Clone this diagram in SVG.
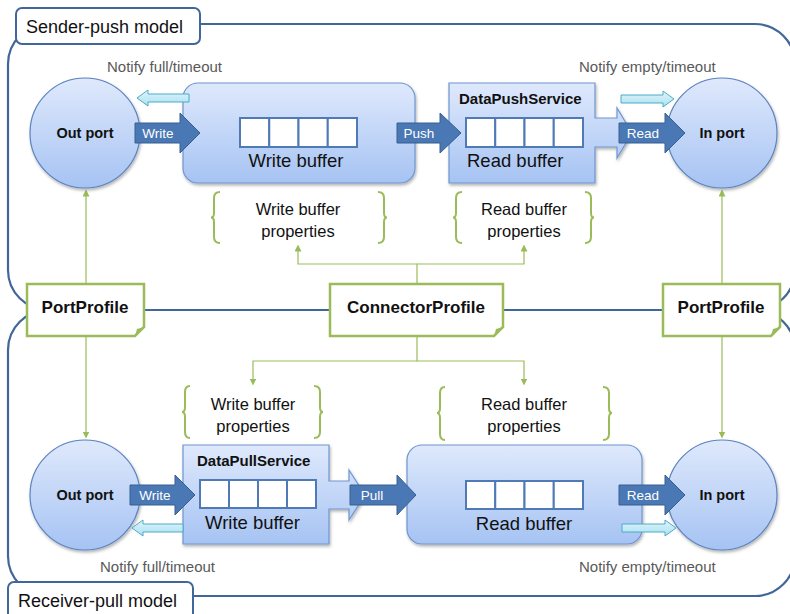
<svg xmlns="http://www.w3.org/2000/svg" width="790" height="614" viewBox="0 0 790 614">
<defs>
<linearGradient id="gBlue" x1="0" y1="0" x2="0" y2="1">
<stop offset="0" stop-color="#dfe9fc"/>
<stop offset="1" stop-color="#a6c3f3"/>
</linearGradient>
<linearGradient id="gCyan" x1="0" y1="0" x2="0" y2="1">
<stop offset="0" stop-color="#e2f5fb"/>
<stop offset="1" stop-color="#a9e0f1"/>
</linearGradient>
<filter id="sh" x="-10%" y="-10%" width="130%" height="130%">
<feDropShadow dx="1" dy="2" stdDeviation="1.5" flood-color="#000" flood-opacity="0.3"/>
</filter>
<marker id="ga" viewBox="0 0 8 8" refX="4" refY="4" markerWidth="7" markerHeight="7" markerUnits="userSpaceOnUse" orient="auto">
<path d="M0,0 L8,4 L0,8 z" fill="#9bbb59"/>
</marker>
<style>
.cont{fill:none;stroke:#41679a;stroke-width:2.2}
.lbl{fill:#fff;stroke:#41679a;stroke-width:2}
.lbltxt{font-family:"Liberation Sans",Arial,sans-serif;font-size:18px;fill:#111}
.port{fill:url(#gBlue);stroke:#5b82bf;stroke-width:1.2;filter:url(#sh)}
.box{fill:url(#gBlue);stroke:#6f95cf;stroke-width:1.2;filter:url(#sh)}
.cell{fill:#fff;stroke:#4f7ab6;stroke-width:2}
.darr{fill:#4a78b4;stroke:#365f91;stroke-width:1}
.larr{fill:url(#gCyan);stroke:#4bacc6;stroke-width:1}
.prof{fill:#fff;stroke:#9bbb59;stroke-width:2.5}
.fold{fill:#9bbb59}
.gl{fill:none;stroke:#9bbb59;stroke-width:1.2}
.brace{fill:none;stroke:#9bbb59;stroke-width:2}
.t{font-family:"Liberation Sans",Arial,sans-serif;fill:#111}
.b{font-weight:bold}
.w{fill:#fff;font-size:13.5px}
.gray{fill:#595959;font-size:15px}
.mid{text-anchor:middle}
</style>
</defs>

<g id="containers">
<rect class="cont" x="8" y="24" width="787" height="286" rx="40"/>
<rect class="cont" x="8" y="310" width="787" height="286" rx="40"/>
</g>

<g id="label-sender">
<rect class="lbl" x="16" y="8" width="184" height="36" rx="6"/>
<text class="lbltxt" x="26" y="33">Sender-push model</text>
</g>
<g id="label-receiver">
<rect class="lbl" x="8" y="582" width="185" height="40" rx="6"/>
<text class="lbltxt" x="18" y="607">Receiver-pull model</text>
</g>

<g id="connectors">
<path class="gl" d="M86,284 V193" marker-end="url(#ga)"/>
<path class="gl" d="M722,284 V193" marker-end="url(#ga)"/>
<path class="gl" d="M417,284 V264 H298 V248" marker-end="url(#ga)"/>
<path class="gl" d="M417,264 H524 V248" marker-end="url(#ga)"/>
<path class="gl" d="M86,336 V435" marker-end="url(#ga)"/>
<path class="gl" d="M722,336 V435" marker-end="url(#ga)"/>
<path class="gl" d="M417,336 V361 H253 V382" marker-end="url(#ga)"/>
<path class="gl" d="M417,361 H524 V382" marker-end="url(#ga)"/>
</g>

<g id="outport-top">
<circle class="port" cx="85" cy="133" r="55"/>
<text class="t b mid" x="85" y="138" font-size="14.5">Out port</text>
</g>
<g id="inport-top">
<circle class="port" cx="722" cy="133" r="55"/>
<text class="t b mid" x="722" y="138" font-size="14.5">In port</text>
</g>

<g id="writebuffer-top">
<rect class="box" x="183" y="83" width="232" height="100" rx="15"/>
<rect class="cell" x="240" y="118" width="29.25" height="29"/>
<rect class="cell" x="269.25" y="118" width="29.25" height="29"/>
<rect class="cell" x="298.5" y="118" width="29.25" height="29"/>
<rect class="cell" x="327.75" y="118" width="29.25" height="29"/>
<text class="t mid" x="296" y="167" font-size="18.5">Write buffer</text>
</g>

<g id="datapushservice">
<path class="box" d="M449,83 H595 V118 H617 V108 L632,133 L617,158 V147 H595 V183 H449 Z"/>
<text class="t b" x="459" y="104" font-size="15">DataPushService</text>
<rect class="cell" x="466" y="118" width="29.25" height="29"/>
<rect class="cell" x="495.25" y="118" width="29.25" height="29"/>
<rect class="cell" x="524.5" y="118" width="29.25" height="29"/>
<rect class="cell" x="553.75" y="118" width="29.25" height="29"/>
<text class="t" x="467" y="167" font-size="18.5">Read buffer</text>
</g>

<g id="arrows-top">
<path class="darr" d="M135,123 H180 V113 L200,133 L180,153 V143 H135 Z"/>
<text class="t w mid" x="158" y="138">Write</text>
<path class="darr" d="M397,123 H440 V113 L461,133 L440,153 V143 H397 Z"/>
<text class="t w mid" x="419" y="138">Push</text>
<path class="darr" d="M619,123 H665 V113 L685,133 L665,153 V143 H619 Z"/>
<text class="t w mid" x="643" y="138">Read</text>
<path class="larr" d="M189,94 V102 H148 V106 L137,98 L148,90 V94 Z"/>
<path class="larr" d="M621,95 H663 V91 L674,99 L663,107 V103 H621 Z"/>
<text class="t gray" x="107" y="72">Notify full/timeout</text>
<text class="t gray" x="579" y="72">Notify empty/timeout</text>
</g>

<g id="props-top">
<path class="brace" d="M220,192 Q214,192 214,198 V213 Q214,217.5 211,217.5 Q214,217.5 214,222 V237 Q214,243 220,243"/>
<path class="brace" d="M378,192 Q384,192 384,198 V213 Q384,217.5 387,217.5 Q384,217.5 384,222 V237 Q384,243 378,243"/>
<text class="t mid" x="298" y="215" font-size="16.5">Write buffer</text>
<text class="t mid" x="298" y="237" font-size="16.5">properties</text>
<path class="brace" d="M462,192 Q456,192 456,198 V213 Q456,217.5 453,217.5 Q456,217.5 456,222 V237 Q456,243 462,243"/>
<path class="brace" d="M585,192 Q591,192 591,198 V213 Q591,217.5 594,217.5 Q591,217.5 591,222 V237 Q591,243 585,243"/>
<text class="t mid" x="524" y="215" font-size="16.5">Read buffer</text>
<text class="t mid" x="524" y="237" font-size="16.5">properties</text>
</g>

<g id="portprofile-left">
<path class="prof" d="M27,284 H144 V327 L135,336 H27 Z"/>
<path class="fold" d="M144,327 L135,336 L137,329 Z"/>
<text class="t b mid" x="85" y="313" font-size="17">PortProfile</text>
</g>
<g id="connectorprofile">
<path class="prof" d="M330,284 H503 V327 L494,336 H330 Z"/>
<path class="fold" d="M503,327 L494,336 L496,329 Z"/>
<text class="t b mid" x="416" y="313" font-size="17">ConnectorProfile</text>
</g>
<g id="portprofile-right">
<path class="prof" d="M663,284 H780 V327 L771,336 H663 Z"/>
<path class="fold" d="M780,327 L771,336 L773,329 Z"/>
<text class="t b mid" x="721" y="313" font-size="17">PortProfile</text>
</g>

<g id="outport-bottom">
<circle class="port" cx="85" cy="495" r="55"/>
<text class="t b mid" x="85" y="500" font-size="14.5">Out port</text>
</g>
<g id="inport-bottom">
<circle class="port" cx="722" cy="495" r="55"/>
<text class="t b mid" x="722" y="500" font-size="14.5">In port</text>
</g>

<g id="datapullservice">
<path class="box" d="M183,445 H329 V481 H349 V470 L365,495 L349,520 V509 H329 V544 H183 Z"/>
<text class="t b" x="197" y="466" font-size="15">DataPullService</text>
<rect class="cell" x="200" y="480" width="29" height="28"/>
<rect class="cell" x="229" y="480" width="29" height="28"/>
<rect class="cell" x="258" y="480" width="29" height="28"/>
<rect class="cell" x="287" y="480" width="29" height="28"/>
<text class="t" x="205" y="529" font-size="18.5">Write buffer</text>
</g>

<g id="readbuffer-bottom">
<rect class="box" x="407" y="445" width="235" height="99" rx="15"/>
<rect class="cell" x="466" y="481" width="29.25" height="28"/>
<rect class="cell" x="495.25" y="481" width="29.25" height="28"/>
<rect class="cell" x="524.5" y="481" width="29.25" height="28"/>
<rect class="cell" x="553.75" y="481" width="29.25" height="28"/>
<text class="t mid" x="524" y="530" font-size="18.5">Read buffer</text>
</g>

<g id="arrows-bottom">
<path class="darr" d="M130,485 H175 V475 L195,495 L175,515 V505 H130 Z"/>
<text class="t w mid" x="155" y="500">Write</text>
<path class="darr" d="M350,485 H397 V475 L416,495 L397,515 V505 H350 Z"/>
<text class="t w mid" x="372" y="500">Pull</text>
<path class="darr" d="M619,485 H665 V475 L685,495 L665,515 V505 H619 Z"/>
<text class="t w mid" x="643" y="500">Read</text>
<path class="larr" d="M183,524 V532 H143 V536 L132,528 L143,520 V524 Z"/>
<path class="larr" d="M622,524 H665 V520 L676,528 L665,536 V532 H622 Z"/>
<text class="t gray" x="100" y="572">Notify full/timeout</text>
<text class="t gray" x="579" y="572">Notify empty/timeout</text>
</g>

<g id="props-bottom">
<path class="brace" d="M190,386 Q185,386 185,392 V407 Q185,412 182,412 Q185,412 185,417 V432 Q185,438 190,438"/>
<path class="brace" d="M314,386 Q320,386 320,392 V407 Q320,412 323,412 Q320,412 320,417 V432 Q320,438 314,438"/>
<text class="t mid" x="253" y="410" font-size="16.5">Write buffer</text>
<text class="t mid" x="253" y="432" font-size="16.5">properties</text>
<path class="brace" d="M445,387 Q440,387 440,393 V408 Q440,413 437,413 Q440,413 440,418 V434 Q440,440 445,440"/>
<path class="brace" d="M603,387 Q609,387 609,393 V408 Q609,413 612,413 Q609,413 609,418 V434 Q609,440 603,440"/>
<text class="t mid" x="524" y="410" font-size="16.5">Read buffer</text>
<text class="t mid" x="524" y="432" font-size="16.5">properties</text>
</g>
</svg>
